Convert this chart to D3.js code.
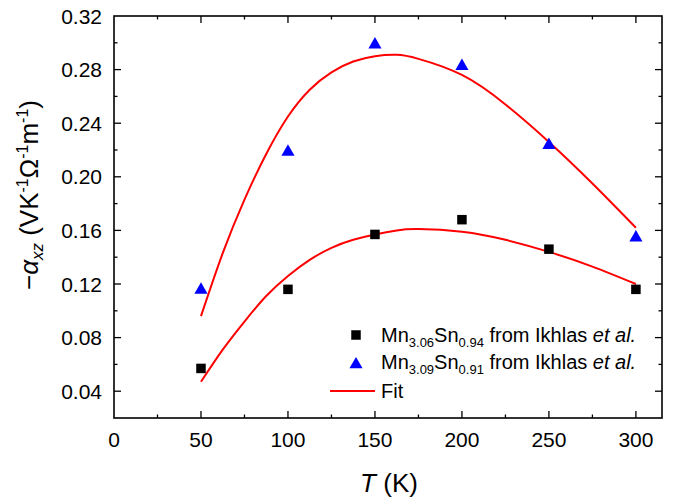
<!DOCTYPE html>
<html><head><meta charset="utf-8">
<script src="https://cdn.jsdelivr.net/npm/d3@7"></script>
<style>
html,body{margin:0;padding:0;background:#fff;}
text{font-family:"Liberation Sans",Arial,sans-serif;fill:#000;}
</style></head>
<body><svg id="c" width="683" height="498"></svg>
<script>
// ---- data ----
const temps = [50, 100, 150, 200, 250, 300];
const seriesSquare = [0.057, 0.116, 0.157, 0.168, 0.146, 0.116]; // Mn3.06Sn0.94
const seriesTriangle = [0.117, 0.220, 0.300, 0.284, 0.225, 0.156]; // Mn3.09Sn0.91
const fitT = [50, 62.5, 75, 87.5, 100, 112.5, 125, 137.5, 150, 162.5, 175, 200, 225, 250, 275, 300];
const fitUpper = [0.096, 0.143, 0.183, 0.217, 0.245, 0.265, 0.278, 0.286, 0.290, 0.291, 0.288, 0.276, 0.254, 0.226, 0.195, 0.162];
const fitLower = [0.047, 0.071, 0.092, 0.111, 0.126, 0.138, 0.147, 0.153, 0.157, 0.160, 0.161, 0.159, 0.153, 0.144, 0.133, 0.120];
const xTicks = [0, 50, 100, 150, 200, 250, 300];
const yTicks = [0.04, 0.08, 0.12, 0.16, 0.20, 0.24, 0.28, 0.32];

const svg = d3.select("#c");
const L = 114, R = 662, T = 16, B = 418;
const x = d3.scaleLinear().domain([0, 315]).range([L, R]);
const y = d3.scaleLinear().domain([0.02, 0.32]).range([B, T]);

const xMinor = d3.range(25, 315, 50);
const yMinor = d3.range(0.02, 0.321, 0.04).map(v => +v.toFixed(2)).filter(v => v > 0.021 && v < 0.319);

const g = svg.append("g");
function vt(xv, len, y0, dir) { g.append("line").attr("x1", x(xv)).attr("x2", x(xv)).attr("y1", y0).attr("y2", y0 + dir * len).attr("stroke", "#000").attr("stroke-width", 1.3); }
function ht(yv, len, x0, dir) { g.append("line").attr("y1", y(yv)).attr("y2", y(yv)).attr("x1", x0).attr("x2", x0 + dir * len).attr("stroke", "#000").attr("stroke-width", 1.3); }
xTicks.forEach(v => { if (v > 0) { vt(v, 7, B, -1); vt(v, 7, T, 1); } });
xMinor.forEach(v => { vt(v, 3.5, B, -1); vt(v, 3.5, T, 1); });
yTicks.forEach(v => { if (v < 0.32) { ht(v, 7, L, 1); ht(v, 7, R, -1); } });
yMinor.forEach(v => { ht(v, 3.5, L, 1); ht(v, 3.5, R, -1); });

g.append("rect").attr("x", L).attr("y", T).attr("width", R - L).attr("height", B - T)
  .attr("fill", "none").attr("stroke", "#000").attr("stroke-width", 1.6);

svg.append("g").selectAll("text").data(xTicks).join("text")
  .attr("x", d => x(d)).attr("y", 447).attr("text-anchor", "middle").attr("font-size", 21).text(d => d);
svg.append("g").selectAll("text").data(yTicks).join("text")
  .attr("x", 102).attr("y", d => y(d) + 7.5).attr("text-anchor", "end").attr("font-size", 21).text(d => d.toFixed(2));

const xt = svg.append("text").attr("x", 389).attr("y", 492).attr("text-anchor", "middle").attr("font-size", 26);
xt.append("tspan").attr("font-style", "italic").text("T");
xt.append("tspan").text(" (K)");

const yt = svg.append("text").attr("transform", "translate(38,195) rotate(-90)").attr("text-anchor", "middle").attr("font-size", 26);
yt.append("tspan").text("\u2212");
yt.append("tspan").attr("font-style", "italic").text("\u03B1");
yt.append("tspan").attr("font-style", "italic").attr("font-size", 17).attr("dy", 5).text("xz");
yt.append("tspan").attr("dy", -5).text(" (VK");
yt.append("tspan").attr("font-size", 16).attr("dy", -10).text("-1");
yt.append("tspan").attr("dy", 10).text("\u03A9");
yt.append("tspan").attr("font-size", 16).attr("dy", -10).text("-1");
yt.append("tspan").attr("dy", 10).text("m");
yt.append("tspan").attr("font-size", 16).attr("dy", -10).text("-1");
yt.append("tspan").attr("dy", 10).text(")");

const line = d3.line().x(d => x(d[0])).y(d => y(d[1])).curve(d3.curveNatural);
[fitUpper, fitLower].forEach(arr => {
  svg.append("path").datum(fitT.map((t, i) => [t, arr[i]])).attr("d", line)
    .attr("fill", "none").attr("stroke", "#ff0000").attr("stroke-width", 2);
});

const sq = 9.5;
svg.append("g").selectAll("rect").data(temps.map((t, i) => [t, seriesSquare[i]])).join("rect")
  .attr("x", d => x(d[0]) - sq / 2).attr("y", d => y(d[1]) - sq / 2).attr("width", sq).attr("height", sq).attr("fill", "#000");
const tri = d3.symbol(d3.symbolTriangle, 75);
svg.append("g").selectAll("path").data(temps.map((t, i) => [t, seriesTriangle[i]])).join("path")
  .attr("d", tri).attr("transform", d => `translate(${x(d[0])},${y(d[1]) + 1.9})`).attr("fill", "#0000ff");

const lg = svg.append("g");
lg.append("rect").attr("x", 356 - sq / 2).attr("y", 335 - sq / 2).attr("width", sq).attr("height", sq).attr("fill", "#000");
lg.append("path").attr("d", tri).attr("transform", "translate(356,364.5)").attr("fill", "#0000ff");
lg.append("line").attr("x1", 330).attr("x2", 375).attr("y1", 391).attr("y2", 391).attr("stroke", "#ff0000").attr("stroke-width", 2);
const legendRows = [
  { a: "3.06", b: "0.94", yb: 342 },
  { a: "3.09", b: "0.91", yb: 369 }
];
legendRows.forEach(r => {
  const t = lg.append("text").attr("x", 381).attr("y", r.yb).attr("font-size", 20);
  t.append("tspan").text("Mn");
  t.append("tspan").attr("font-size", 13).attr("dy", 5).text(r.a);
  t.append("tspan").attr("dy", -5).text("Sn");
  t.append("tspan").attr("font-size", 13).attr("dy", 5).text(r.b);
  t.append("tspan").attr("dy", -5).text(" from Ikhlas ");
  t.append("tspan").attr("font-style", "italic").text("et al.");
});
lg.append("text").attr("x", 381).attr("y", 398).attr("font-size", 20).text("Fit");
</script></body></html>
